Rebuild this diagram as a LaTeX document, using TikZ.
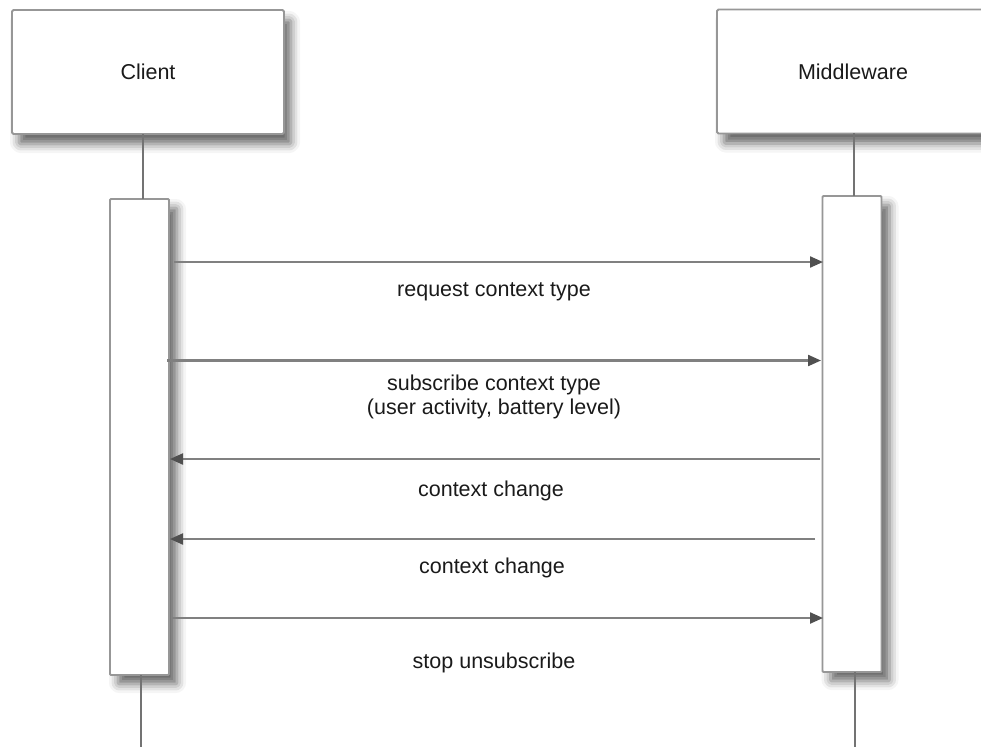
\documentclass[tikz,border=0pt]{standalone}
\usepackage{fontspec}
\setmainfont{Liberation Sans}
\usetikzlibrary{arrows.meta,shadows.blur}

\definecolor{boxline}{HTML}{979797}
\definecolor{lifeline}{HTML}{737373}
\definecolor{msgline}{HTML}{808080}
\definecolor{tipfill}{HTML}{505050}
\definecolor{txt}{HTML}{1A1A1A}

\tikzset{
  actor/.style={draw=boxline, line width=1.8pt, fill=white, rounded corners=1.5pt,
    minimum width=272pt, minimum height=124pt, inner sep=0pt,
    font=\fontsize{21.5}{24}\selectfont, text=txt,
    blur shadow={shadow xshift=7pt, shadow yshift=-10pt, shadow blur radius=9pt, shadow opacity=60}},
  activation/.style={draw=boxline, line width=1.8pt, fill=white, rounded corners=1pt,
    minimum width=59pt, minimum height=476pt, inner sep=0pt,
    blur shadow={shadow xshift=8pt, shadow yshift=-9pt, shadow blur radius=9pt, shadow opacity=60}},
  life/.style={draw=lifeline, line width=2.6pt},
  msg/.style={draw=msgline, line width=2.2pt,
    -{Triangle[length=13pt, width=11pt, fill=tipfill, color=tipfill]}},
  msglabel/.style={font=\fontsize{21.5}{24}\selectfont, text=txt, align=center, inner sep=0pt},
}

\begin{document}
\begin{tikzpicture}[x=1pt, y=-1pt]
  \useasboundingbox (0,0) rectangle (981,747);
  \clip (0,0) rectangle (981,747);

  % participants
  \node[actor] (client) at (148,72) {Client};
  \node[actor] (mw) at (853,71.5) {Middleware};

  % activation bars
  \node[activation] (cact) at (139.5,437) {};
  \node[activation] (mact) at (852,434) {};

  % lifelines
  \coordinate (cl1) at (143,134);
  \coordinate (cl2) at (143,199);
  \coordinate (cl3) at (141,675);
  \coordinate (cl4) at (141,747);
  \coordinate (ml1) at (854,133);
  \coordinate (ml2) at (854,196);
  \coordinate (ml3) at (855,672);
  \coordinate (ml4) at (855,747);
  \draw[life] (cl1) -- (cl2);
  \draw[life] (cl3) -- (cl4);
  \draw[life] (ml1) -- (ml2);
  \draw[life] (ml3) -- (ml4);

  % message end points
  \coordinate (a1s) at (174,262);  \coordinate (a1e) at (823,262);
  \coordinate (a2s) at (167,360.5);\coordinate (a2e) at (821,360.5);
  \coordinate (a3s) at (820,459);  \coordinate (a3e) at (170,459);
  \coordinate (a4s) at (815,539);  \coordinate (a4e) at (170,539);
  \coordinate (a5s) at (172,618);  \coordinate (a5e) at (823,618);

  \draw[msg] (a1s) -- (a1e);
  \draw[msg] (a2s) -- (a2e);
  \draw[msg] (a3s) -- (a3e);
  \draw[msg] (a4s) -- (a4e);
  \draw[msg] (a5s) -- (a5e);

  % message labels
  \node[msglabel] (l1) at (494,292) {request context type};
  \node[msglabel] (l2) at (494,397) {subscribe context type\\(user activity, battery level)};
  \node[msglabel] (l3) at (491,491) {context change};
  \node[msglabel] (l4) at (492,568) {context change};
  \node[msglabel] (l5) at (494,663) {stop unsubscribe};
\end{tikzpicture}
\end{document}
